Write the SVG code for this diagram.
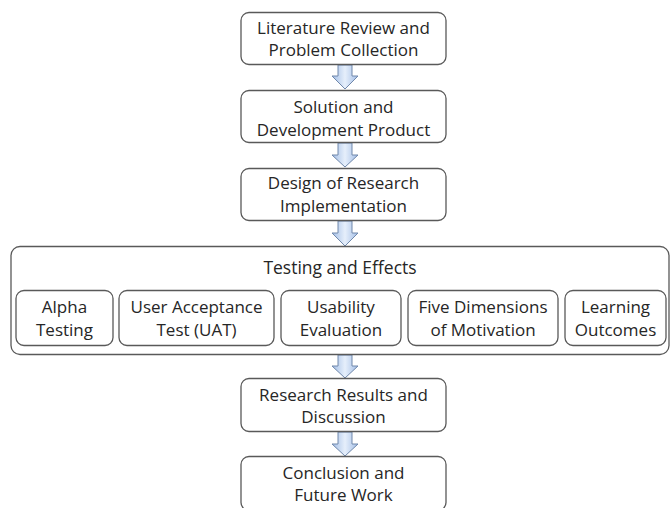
<svg xmlns="http://www.w3.org/2000/svg" width="670" height="508" viewBox="0 0 670 508">
<defs>
<linearGradient id="ag" x1="0" y1="0" x2="1" y2="0">
<stop offset="0" stop-color="#a3bee6"/>
<stop offset="0.5" stop-color="#e6effb"/>
<stop offset="1" stop-color="#a3bee6"/>
</linearGradient>
<style>
.box{fill:#ffffff;stroke:#595959;stroke-width:1.3}
.t{font-family:"Open Sans","Noto Sans","Liberation Sans",sans-serif;font-size:17px;fill:#262626;text-anchor:middle}
.arr{fill:url(#ag);stroke:#7088ab;stroke-width:1}
</style>
</defs>
<rect width="670" height="508" fill="#ffffff"/>
<g id="connectors">
<path class="arr" d="M338,65 H352 V76 H358 L345,89 L332,76 H338 Z"/>
<path class="arr" d="M338,143 H352 V155 H358 L345,167 L332,155 H338 Z"/>
<path class="arr" d="M338,221 H352 V233 H358 L345,246 L332,233 H338 Z"/>
<path class="arr" d="M338,355 H352 V366 H358 L345,378 L332,366 H338 Z"/>
<path class="arr" d="M338,432 H352 V444 H358 L345,456 L332,444 H338 Z"/>
</g>
<g id="n1">
<rect class="box" x="241" y="12.5" width="205" height="52" rx="8"/>
<text class="t" x="343.5" y="34">Literature Review and</text>
<text class="t" x="343.5" y="56">Problem Collection</text>
</g>
<g id="n2">
<rect class="box" x="241" y="90.5" width="205" height="52" rx="8"/>
<text class="t" x="343.5" y="113">Solution and</text>
<text class="t" x="343.5" y="136">Development Product</text>
</g>
<g id="n3">
<rect class="box" x="241" y="168.5" width="205" height="52" rx="8"/>
<text class="t" x="343.5" y="189">Design of Research</text>
<text class="t" x="343.5" y="212">Implementation</text>
</g>
<g id="n4">
<rect class="box" x="11" y="246.5" width="658" height="108" rx="9"/>
<text class="t" x="340" y="274" style="font-size:17.5px">Testing and Effects</text>
</g>
<g id="n4a">
<rect class="box" x="16" y="290.5" width="97" height="55" rx="8"/>
<text class="t" x="64.5" y="313">Alpha</text>
<text class="t" x="64.5" y="336">Testing</text>
</g>
<g id="n4b">
<rect class="box" x="119" y="290.5" width="155" height="55" rx="8"/>
<text class="t" x="196.5" y="313">User Acceptance</text>
<text class="t" x="196.5" y="336">Test (UAT)</text>
</g>
<g id="n4c">
<rect class="box" x="281" y="290.5" width="120" height="55" rx="8"/>
<text class="t" x="341" y="313">Usability</text>
<text class="t" x="341" y="336">Evaluation</text>
</g>
<g id="n4d">
<rect class="box" x="408" y="290.5" width="150" height="55" rx="8"/>
<text class="t" x="483" y="313">Five Dimensions</text>
<text class="t" x="483" y="336">of Motivation</text>
</g>
<g id="n4e">
<rect class="box" x="565" y="290.5" width="101" height="55" rx="8"/>
<text class="t" x="615.5" y="313">Learning</text>
<text class="t" x="615.5" y="336">Outcomes</text>
</g>
<g id="n5">
<rect class="box" x="241" y="378.5" width="205" height="53" rx="8"/>
<text class="t" x="343.5" y="401">Research Results and</text>
<text class="t" x="343.5" y="423">Discussion</text>
</g>
<g id="n6">
<rect class="box" x="241" y="456.5" width="205" height="54" rx="8"/>
<text class="t" x="343.5" y="479">Conclusion and</text>
<text class="t" x="343.5" y="501">Future Work</text>
</g>
</svg>
